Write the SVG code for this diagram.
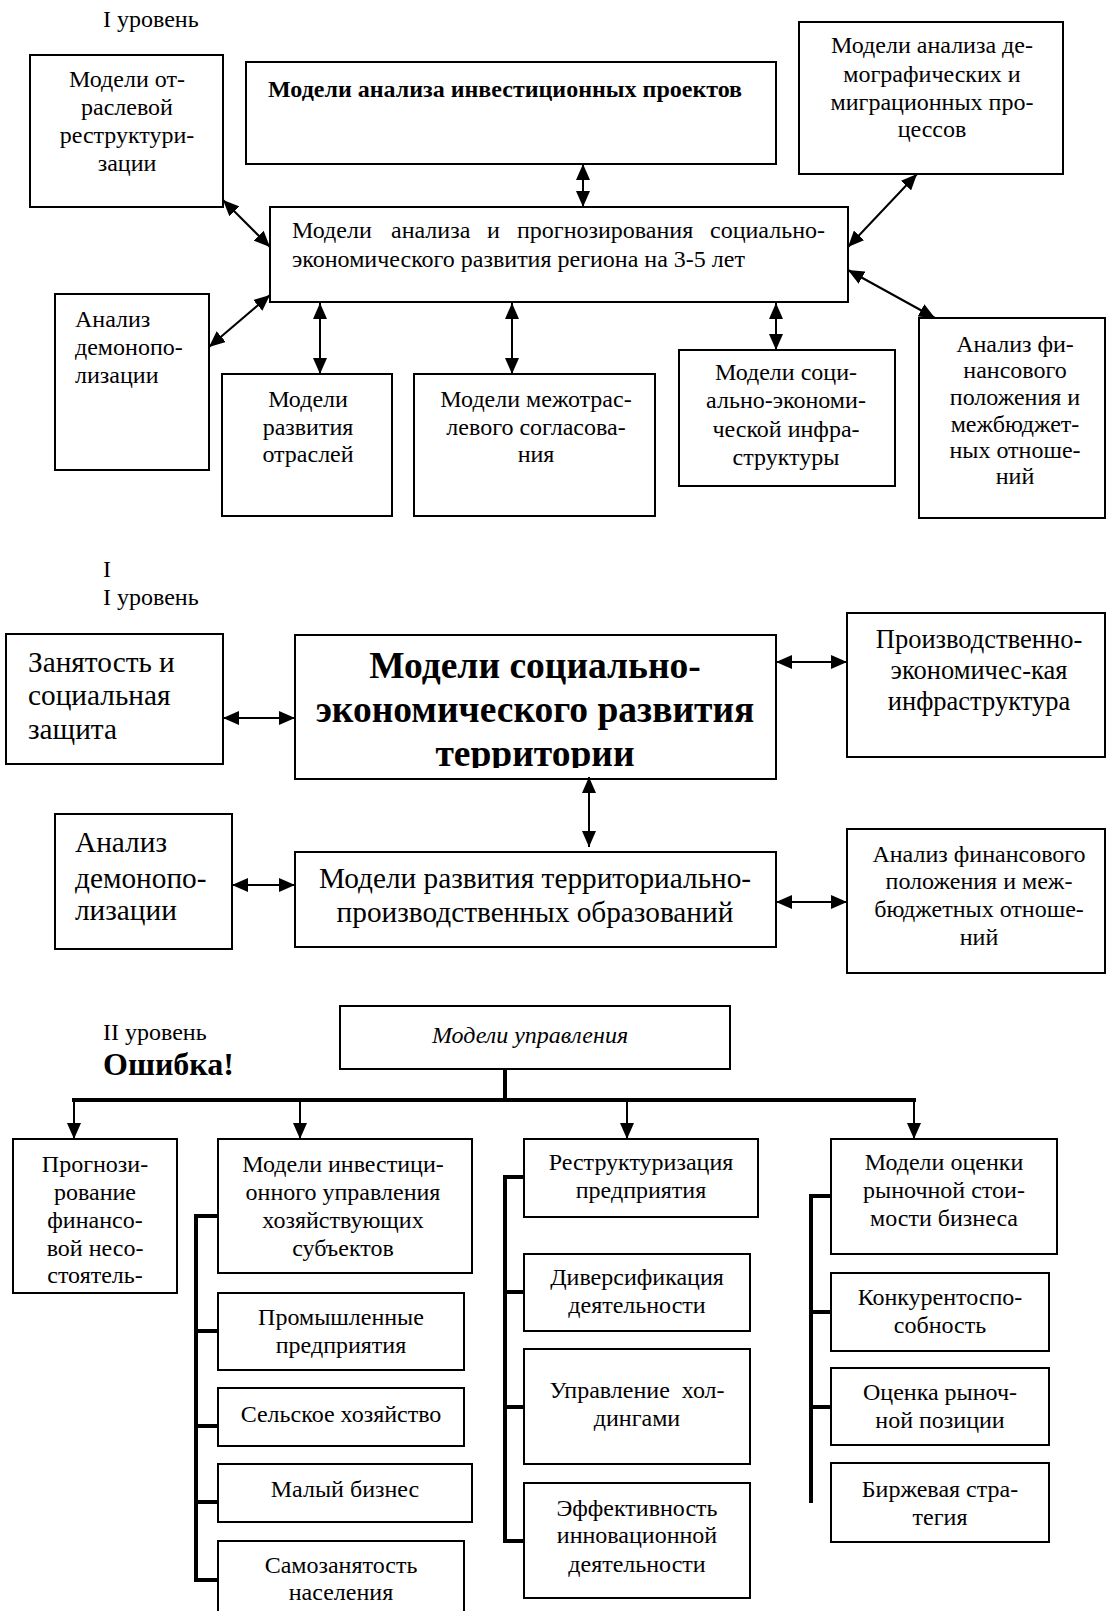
<svg xmlns="http://www.w3.org/2000/svg" width="1106" height="1611" viewBox="0 0 1106 1611">
<style>
text{font-family:"Liberation Serif","Times New Roman",serif;fill:#000}
.box{fill:#fff;stroke:#000;stroke-width:2}
.t23{font-size:24px}
.t22{font-size:24px}
.t28{font-size:29.3px}
.c{text-anchor:middle}
.b{font-weight:bold}
.ln{stroke:#000;stroke-width:2;fill:none}
.arr2{stroke:#000;stroke-width:2;fill:none;marker-start:url(#ah);marker-end:url(#ah)}
.arr1{stroke:#000;stroke-width:2;fill:none;marker-end:url(#ah)}
.thick{stroke:#000;stroke-width:4;fill:none}
</style>
<defs>
<marker id="ah" markerUnits="userSpaceOnUse" markerWidth="16" markerHeight="14" refX="16" refY="7" orient="auto-start-reverse">
<path d="M0,0 L16,7 L0,14 Z" fill="#000"/>
</marker>
<clipPath id="clipMain2"><rect x="295" y="635" width="481" height="133"/></clipPath>
</defs>

<!-- Level labels -->
<text class="t22" x="103" y="27">I уровень</text>
<text class="t22" x="103" y="577">I</text>
<text class="t22" x="103" y="605">I уровень</text>
<text class="t22" x="103" y="1040">II уровень</text>
<text class="b" x="103" y="1075" font-size="32">Ошибка!</text>

<!-- Section 1 nodes -->
<g id="n-otrasl">
<rect class="box" x="30" y="55" width="193" height="152"/>
<text class="t23 c" x="127" y="87">Модели от-</text>
<text class="t23 c" x="127" y="115">раслевой</text>
<text class="t23 c" x="127" y="143">реструктури-</text>
<text class="t23 c" x="127" y="171">зации</text>
</g>
<g id="n-invest">
<rect class="box" x="246" y="62" width="530" height="102"/>
<text class="t22 b" x="268" y="97">Модели анализа инвестиционных проектов</text>
</g>
<g id="n-demo">
<rect class="box" x="799" y="22" width="264" height="152"/>
<text class="t23 c" x="932" y="53">Модели анализа де-</text>
<text class="t23 c" x="932" y="82">мографических и</text>
<text class="t23 c" x="932" y="110">миграционных про-</text>
<text class="t23 c" x="932" y="137">цессов</text>
</g>
<g id="n-main1">
<rect class="box" x="270" y="207" width="578" height="95"/>
<text class="t23" y="238"><tspan x="292">Модели</tspan> <tspan x="391">анализа</tspan> <tspan x="487">и</tspan> <tspan x="517">прогнозирования</tspan></text>
<text class="t23" x="825" y="238" text-anchor="end">социально-</text>
<text class="t23" x="292" y="267">экономического развития региона на 3-5 лет</text>
</g>
<g id="n-demonopol1">
<rect class="box" x="55" y="294" width="154" height="176"/>
<text class="t23" x="75" y="327">Анализ</text>
<text class="t23" x="75" y="355">демонопо-</text>
<text class="t23" x="75" y="383">лизации</text>
</g>
<g id="n-branches">
<rect class="box" x="222" y="374" width="170" height="142"/>
<text class="t23 c" x="308" y="407">Модели</text>
<text class="t23 c" x="308" y="435">развития</text>
<text class="t23 c" x="308" y="462">отраслей</text>
</g>
<g id="n-mezhotr">
<rect class="box" x="414" y="374" width="241" height="142"/>
<text class="t23 c" x="536" y="407">Модели межотрас-</text>
<text class="t23 c" x="536" y="435">левого согласова-</text>
<text class="t23 c" x="536" y="462">ния</text>
</g>
<g id="n-infra">
<rect class="box" x="679" y="350" width="216" height="136"/>
<text class="t23 c" x="786" y="380">Модели соци-</text>
<text class="t23 c" x="786" y="408">ально-экономи-</text>
<text class="t23 c" x="786" y="437">ческой инфра-</text>
<text class="t23 c" x="786" y="465">структуры</text>
</g>
<g id="n-fin1">
<rect class="box" x="919" y="318" width="186" height="200"/>
<text class="t23 c" x="1015" y="352">Анализ фи-</text>
<text class="t23 c" x="1015" y="378">нансового</text>
<text class="t23 c" x="1015" y="405">положения и</text>
<text class="t23 c" x="1015" y="432">межбюджет-</text>
<text class="t23 c" x="1015" y="458">ных отноше-</text>
<text class="t23 c" x="1015" y="484">ний</text>
</g>

<!-- Section 2 nodes -->
<g id="n-zanyat">
<rect class="box" x="6" y="634" width="217" height="130"/>
<text class="t28" x="28" y="672">Занятость и</text>
<text class="t28" x="28" y="705">социальная</text>
<text class="t28" x="28" y="739">защита</text>
</g>
<g id="n-main2">
<rect class="box" x="295" y="635" width="481" height="144"/>
<g clip-path="url(#clipMain2)">
<text class="b c" x="535" y="678" font-size="37.5">Модели социально-</text>
<text class="b c" x="535" y="722" font-size="37.5">экономического развития</text>
<text class="b c" x="535" y="766" font-size="37.5">территории</text>
</g>
</g>
<g id="n-prodecon">
<rect class="box" x="847" y="613" width="258" height="144"/>
<text class="c" x="979" y="648" font-size="26.5">Производственно-</text>
<text class="c" x="979" y="679" font-size="26.5">экономичес-кая</text>
<text class="c" x="979" y="710" font-size="26.5">инфраструктура</text>
</g>
<g id="n-demonopol2">
<rect class="box" x="55" y="814" width="177" height="135"/>
<text class="t28" x="75" y="852">Анализ</text>
<text class="t28" x="75" y="888">демонопо-</text>
<text class="t28" x="75" y="920">лизации</text>
</g>
<g id="n-tpo">
<rect class="box" x="295" y="852" width="481" height="95"/>
<text class="t28 c" x="535" y="888">Модели развития территориально-</text>
<text class="t28 c" x="535" y="922">производственных образований</text>
</g>
<g id="n-fin2">
<rect class="box" x="847" y="829" width="258" height="144"/>
<text class="t22 c" x="979" y="862">Анализ финансового</text>
<text class="t22 c" x="979" y="889">положения и меж-</text>
<text class="t22 c" x="979" y="917">бюджетных отноше-</text>
<text class="t22 c" x="979" y="945">ний</text>
</g>

<!-- Section 3 nodes -->
<g id="n-upr">
<rect class="box" x="340" y="1006" width="390" height="63"/>
<text class="t22 c" x="530" y="1043" font-style="italic">Модели управления</text>
</g>
<g id="n-prognoz">
<rect class="box" x="13" y="1139" width="164" height="154"/>
<text class="t23 c" x="95" y="1172">Прогнози-</text>
<text class="t23 c" x="95" y="1200">рование</text>
<text class="t23 c" x="95" y="1228">финансо-</text>
<text class="t23 c" x="95" y="1256">вой несо-</text>
<text class="t23 c" x="95" y="1283">стоятель-</text>
</g>
<g id="n-investupr">
<rect class="box" x="218" y="1139" width="254" height="134"/>
<text class="t23 c" x="343" y="1172">Модели инвестици-</text>
<text class="t23 c" x="343" y="1200">онного управления</text>
<text class="t23 c" x="343" y="1228">хозяйствующих</text>
<text class="t23 c" x="343" y="1256">субъектов</text>
</g>
<g id="n-prom">
<rect class="box" x="218" y="1293" width="246" height="77"/>
<text class="t23 c" x="341" y="1325">Промышленные</text>
<text class="t23 c" x="341" y="1353">предприятия</text>
</g>
<g id="n-selsk">
<rect class="box" x="218" y="1388" width="246" height="58"/>
<text class="t23 c" x="341" y="1422">Сельское хозяйство</text>
</g>
<g id="n-maly">
<rect class="box" x="218" y="1464" width="254" height="58"/>
<text class="t23 c" x="345" y="1497">Малый бизнес</text>
</g>
<g id="n-samozan">
<rect class="box" x="218" y="1541" width="246" height="80"/>
<text class="t23 c" x="341" y="1573">Самозанятость</text>
<text class="t23 c" x="341" y="1600">населения</text>
</g>
<g id="n-restr">
<rect class="box" x="524" y="1139" width="234" height="78"/>
<text class="t23 c" x="641" y="1170">Реструктуризация</text>
<text class="t23 c" x="641" y="1198">предприятия</text>
</g>
<g id="n-divers">
<rect class="box" x="524" y="1254" width="226" height="77"/>
<text class="t23 c" x="637" y="1285">Диверсификация</text>
<text class="t23 c" x="637" y="1313">деятельности</text>
</g>
<g id="n-hold">
<rect class="box" x="524" y="1349" width="226" height="115"/>
<text class="t23 c" x="637" y="1398" xml:space="preserve">Управление  хол-</text>
<text class="t23 c" x="637" y="1426">дингами</text>
</g>
<g id="n-effect">
<rect class="box" x="524" y="1483" width="226" height="115"/>
<text class="t23 c" x="637" y="1516">Эффективность</text>
<text class="t23 c" x="637" y="1543">инновационной</text>
<text class="t23 c" x="637" y="1572">деятельности</text>
</g>
<g id="n-ocenki">
<rect class="box" x="831" y="1139" width="226" height="115"/>
<text class="t23 c" x="944" y="1170">Модели оценки</text>
<text class="t23 c" x="944" y="1198">рыночной стои-</text>
<text class="t23 c" x="944" y="1226">мости бизнеса</text>
</g>
<g id="n-konk">
<rect class="box" x="831" y="1273" width="218" height="78"/>
<text class="t23 c" x="940" y="1305">Конкурентоспо-</text>
<text class="t23 c" x="940" y="1333">собность</text>
</g>
<g id="n-pozic">
<rect class="box" x="831" y="1368" width="218" height="77"/>
<text class="t23 c" x="940" y="1400">Оценка рыноч-</text>
<text class="t23 c" x="940" y="1428">ной позиции</text>
</g>
<g id="n-birzh">
<rect class="box" x="831" y="1463" width="218" height="79"/>
<text class="t23 c" x="940" y="1497">Биржевая стра-</text>
<text class="t23 c" x="940" y="1525">тегия</text>
</g>

<!-- Connectors -->
<g id="connectors">
<line class="arr2" x1="223" y1="200" x2="270" y2="247"/>
<line class="arr2" x1="583" y1="164" x2="583" y2="207"/>
<line class="arr2" x1="917" y1="174" x2="848" y2="247"/>
<line class="arr2" x1="848" y1="270" x2="935" y2="318"/>
<line class="arr2" x1="209" y1="347" x2="270" y2="295"/>
<line class="arr2" x1="320" y1="303" x2="320" y2="374"/>
<line class="arr2" x1="512" y1="303" x2="512" y2="374"/>
<line class="arr2" x1="776" y1="303" x2="776" y2="350"/>

<line class="arr2" x1="223" y1="718" x2="295" y2="718"/>
<line class="arr2" x1="776" y1="662" x2="847" y2="662"/>
<line class="arr2" x1="589" y1="777" x2="589" y2="847"/>
<line class="arr2" x1="232" y1="885" x2="295" y2="885"/>
<line class="arr2" x1="776" y1="902" x2="847" y2="902"/>

<line class="thick" x1="505" y1="1069" x2="505" y2="1100"/>
<line class="thick" x1="72" y1="1100" x2="916" y2="1100"/>
<line class="arr1" x1="74" y1="1100" x2="74" y2="1139"/>
<line class="arr1" x1="300" y1="1100" x2="300" y2="1139"/>
<line class="arr1" x1="627" y1="1100" x2="627" y2="1139"/>
<line class="arr1" x1="914" y1="1100" x2="914" y2="1139"/>

<path class="thick" d="M218,1216 H196 V1580 H218 M196,1331 H218 M196,1426 H218 M196,1502 H218"/>
<path class="thick" d="M524,1177 H505 V1541 H524 M505,1292 H524 M505,1407 H524"/>
<path class="thick" d="M831,1196 H811 V1503 M811,1312 H831 M811,1407 H831"/>
</g>
</svg>
